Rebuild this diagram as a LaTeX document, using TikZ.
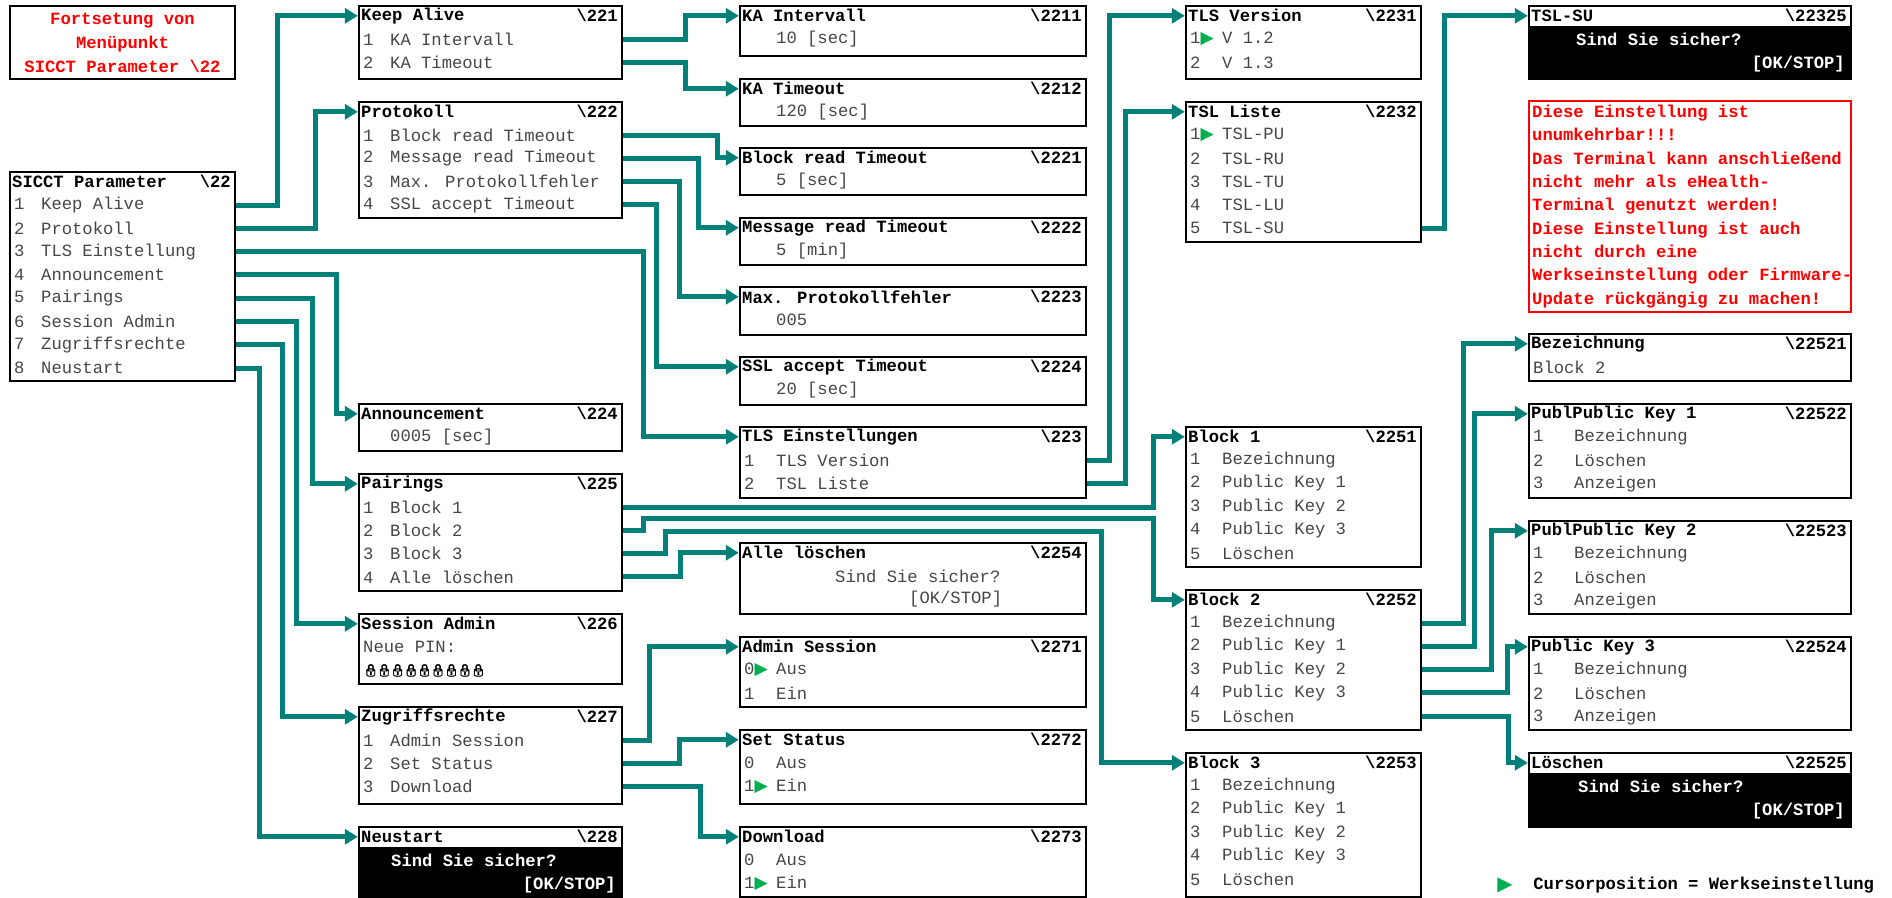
\documentclass[tikz,border=0pt]{standalone}
\usepackage{fontspec}
\setmainfont[Scale=0.86]{Liberation Mono}
\newfontfamily\sym[Scale=0.86]{DejaVu Sans}
\newfontfamily\emo[Scale=0.6,FakeBold=3,LetterSpace=-15]{Noto Emoji}
\usetikzlibrary{arrows.meta,calc,fit}
\definecolor{LinkTeal}{RGB}{0,128,120}
\definecolor{EntryGray}{RGB}{70,70,70}
\definecolor{CursorGreen}{RGB}{0,176,80}
\definecolor{NoteRed}{RGB}{255,0,0}

\newcommand{\nr}[3][13.5pt]{\makebox[#1][l]{#2}#3}
\newcommand{\cur}[3][16pt]{\makebox[#1][l]{#2{\sym\textcolor{CursorGreen}{▶}}}#3}

\tikzset{
  menubox/.style={draw,line width=1.2pt,inner sep=0pt},
  titel/.style={anchor=west,inner sep=0pt,font=\bfseries},
  kennung/.style={anchor=east,inner sep=0pt,font=\bfseries},
  zeile/.style={anchor=west,inner sep=0pt,text=EntryGray},
  link/.style={draw=LinkTeal,line width=2.5pt,-{Triangle[length=6.5pt,width=7.5pt]}},
}

% Menue: Name, Ecken, Titel, Kennung, Zeilen
\newcommand{\menue}[5]{%
  \node[menubox,fit={#2}] (#1) {};
  \node[titel] (#1-t) at ($(#1.north west)+(3,11)$) {#3};
  \node[kennung] (#1-k) at ($(#1.north east)+(-5,11)$) {\textbackslash#4};
  \foreach \z [count=\i] in {#5}
    \node[zeile] (#1-\i) at ($(#1.north west)+(5,{11+23.3*\i})$) {\z};
}
% Sicherheitsabfrage: Name, Ecken, Titel, Kennung, Einzug
\newcommand{\frage}[5]{%
  \node[menubox,fit={#2}] (#1) {};
  \fill ($(#1.north west)+(0,21)$) rectangle (#1.south east);
  \node[titel] (#1-t) at ($(#1.north west)+(3,11)$) {#3};
  \node[kennung] (#1-k) at ($(#1.north east)+(-5,11)$) {\textbackslash#4};
  \node[titel,text=white] (#1-1) at ($(#1.north west)+(#5,35)$) {Sind Sie sicher?};
  \node[kennung,text=white] (#1-2) at ($(#1.north east)+(-7,59)$) {[OK/STOP]};
}

\begin{document}
\begin{tikzpicture}[x=0.5pt,y=-0.5pt]
\useasboundingbox (0,0) rectangle (1892,898);

% linke Spalte
\node[menubox,fit={(10,6)(235,79)}] (fortsetzung) {};
\node[text=NoteRed,font=\bfseries,align=center] (fortsetzung-t) at (fortsetzung.center) {Fortsetung von\\Menüpunkt\\SICCT Parameter \textbackslash22};
\menue{sicct}{(10,172)(235,381)}{SICCT Parameter}{22}{\nr{1}{Keep Alive},\nr{2}{Protokoll},\nr{3}{TLS Einstellung},\nr{4}{Announcement},\nr{5}{Pairings},\nr{6}{Session Admin},\nr{7}{Zugriffsrechte},\nr{8}{Neustart}}

% zweite Spalte
\menue{keepalive}{(359,6)(622,79)}{Keep Alive}{221}{\nr{1}{KA Intervall},\nr{2}{KA Timeout}}
\menue{protokoll}{(359,102)(622,218)}{Protokoll}{222}{\nr{1}{Block read Timeout},\nr{2}{Message read Timeout},\nr{3}{Max. Protokollfehler},\nr{4}{SSL accept Timeout}}
\menue{announcement}{(359,404)(622,451)}{Announcement}{224}{\nr{}{0005 [sec]}}
\menue{pairings}{(359,474)(622,591)}{Pairings}{225}{\nr{1}{Block 1},\nr{2}{Block 2},\nr{3}{Block 3},\nr{4}{Alle löschen}}
\menue{session}{(359,614)(622,684)}{Session Admin}{226}{Neue PIN:,{\color{black}\emo 🔒🔒🔒🔒🔒🔒🔒🔒🔒}}
\menue{zugriff}{(359,707)(622,804)}{Zugriffsrechte}{227}{\nr{1}{Admin Session},\nr{2}{Set Status},\nr{3}{Download}}
\frage{neustart}{(359,827)(622,897)}{Neustart}{228}{33}

% dritte Spalte
\menue{kaint}{(740,6)(1086,56)}{KA Intervall}{2211}{\nr[16pt]{}{10 [sec]}}
\menue{katimeout}{(740,79)(1086,126)}{KA Timeout}{2212}{\nr[16pt]{}{120 [sec]}}
\menue{blockread}{(740,148)(1086,195)}{Block read Timeout}{2221}{\nr[16pt]{}{5 [sec]}}
\menue{msgread}{(740,218)(1086,265)}{Message read Timeout}{2222}{\nr[16pt]{}{5 [min]}}
\menue{maxfehler}{(740,287)(1086,335)}{Max. Protokollfehler}{2223}{\nr[16pt]{}{005}}
\menue{sslaccept}{(740,357)(1086,405)}{SSL accept Timeout}{2224}{\nr[16pt]{}{20 [sec]}}
\menue{tlseinst}{(740,427)(1086,498)}{TLS Einstellungen}{223}{\nr[16pt]{1}{TLS Version},\nr[16pt]{2}{TSL Liste}}
\menue{alle}{(740,543)(1086,614)}{Alle löschen}{2254}{\hspace*{45.5pt}Sind Sie sicher?,\hspace*{82.5pt}[OK/STOP]}
\menue{adminsession}{(740,637)(1086,707)}{Admin Session}{2271}{\cur{0}{Aus},\nr[16pt]{1}{Ein}}
\menue{setstatus}{(740,730)(1086,804)}{Set Status}{2272}{\nr[16pt]{0}{Aus},\cur{1}{Ein}}
\menue{download}{(740,827)(1086,897)}{Download}{2273}{\nr[16pt]{0}{Aus},\cur{1}{Ein}}

% vierte Spalte
\menue{tlsversion}{(1186,6)(1421,79)}{TLS Version}{2231}{\cur{1}{V 1.2},\nr[16pt]{2}{V 1.3}}
\menue{tslliste}{(1186,102)(1421,242)}{TSL Liste}{2232}{\cur{1}{TSL-PU},\nr[16pt]{2}{TSL-RU},\nr[16pt]{3}{TSL-TU},\nr[16pt]{4}{TSL-LU},\nr[16pt]{5}{TSL-SU}}
\menue{block1}{(1186,427)(1421,567)}{Block 1}{2251}{\nr[16pt]{1}{Bezeichnung},\nr[16pt]{2}{Public Key 1},\nr[16pt]{3}{Public Key 2},\nr[16pt]{4}{Public Key 3},\nr[16pt]{5}{Löschen}}
\menue{block2}{(1186,590)(1421,730)}{Block 2}{2252}{\nr[16pt]{1}{Bezeichnung},\nr[16pt]{2}{Public Key 1},\nr[16pt]{3}{Public Key 2},\nr[16pt]{4}{Public Key 3},\nr[16pt]{5}{Löschen}}
\menue{block3}{(1186,753)(1421,897)}{Block 3}{2253}{\nr[16pt]{1}{Bezeichnung},\nr[16pt]{2}{Public Key 1},\nr[16pt]{3}{Public Key 2},\nr[16pt]{4}{Public Key 3},\nr[16pt]{5}{Löschen}}

% fuenfte Spalte
\frage{tslsu}{(1529,6)(1851,79)}{TSL-SU}{22325}{48}
\node[draw=NoteRed,line width=1.2pt,inner sep=0pt,fit={(1529,101)(1851,312)}] (hinweis) {};
\node[anchor=north west,inner sep=0pt,align=left,text=NoteRed,font=\fontsize{10}{11.65}\selectfont\bfseries] (hinweis-t) at ($(hinweis.north west)+(4,5)$) {Diese Einstellung ist\\unumkehrbar!!!\\Das Terminal kann anschließend\\nicht mehr als eHealth-\\Terminal genutzt werden!\\Diese Einstellung ist auch\\nicht durch eine\\Werkseinstellung oder Firmware-\\Update rückgängig zu machen!};
\menue{bezeichnung}{(1529,334)(1851,381)}{Bezeichnung}{22521}{Block 2}
\menue{pk1}{(1529,404)(1851,498)}{PublPublic Key 1}{22522}{\nr[20.5pt]{1}{Bezeichnung},\nr[20.5pt]{2}{Löschen},\nr[20.5pt]{3}{Anzeigen}}
\menue{pk2}{(1529,521)(1851,614)}{PublPublic Key 2}{22523}{\nr[20.5pt]{1}{Bezeichnung},\nr[20.5pt]{2}{Löschen},\nr[20.5pt]{3}{Anzeigen}}
\menue{pk3}{(1529,637)(1851,730)}{Public Key 3}{22524}{\nr[20.5pt]{1}{Bezeichnung},\nr[20.5pt]{2}{Löschen},\nr[20.5pt]{3}{Anzeigen}}
\frage{loeschen}{(1529,753)(1851,827)}{Löschen}{22525}{50}
\node[anchor=west,inner sep=0pt] (legende-s) at (1497,885) {\sym\fontsize{11.5}{12}\selectfont\textcolor{CursorGreen}{▶}};
\node[anchor=west,inner sep=0pt,font=\bfseries] (legende) at (1533,885) {Cursorposition = Werkseinstellung};

% Verbindungen
\draw[link] (sicct-1 -| sicct.east) -- ++(41,0) |- (keepalive-t -| keepalive.west);
\draw[link] (sicct-2 -| sicct.east) -- ++(79,0) |- (protokoll-t -| protokoll.west);
\draw[link] (sicct-3 -| sicct.east) -- ++(407,0) |- (tlseinst-t -| tlseinst.west);
\draw[link] (sicct-4 -| sicct.east) -- ++(100,0) |- (announcement-t -| announcement.west);
\draw[link] (sicct-5 -| sicct.east) -- ++(76,0) |- (pairings-t -| pairings.west);
\draw[link] (sicct-6 -| sicct.east) -- ++(60,0) |- (session-t -| session.west);
\draw[link] (sicct-7 -| sicct.east) -- ++(46,0) |- (zugriff-t -| zugriff.west);
\draw[link] (sicct-8 -| sicct.east) -- ++(23,0) |- (neustart-t -| neustart.west);

\draw[link] (keepalive-1 -| keepalive.east) -- ++(62,0) |- (kaint-t -| kaint.west);
\draw[link] (keepalive-2 -| keepalive.east) -- ++(62,0) |- (katimeout-t -| katimeout.west);
\draw[link] (protokoll-1 -| protokoll.east) -- ++(94,0) |- (blockread-t -| blockread.west);
\draw[link] (protokoll-2 -| protokoll.east) -- ++(75,0) |- (msgread-t -| msgread.west);
\draw[link] (protokoll-3 -| protokoll.east) -- ++(56,0) |- (maxfehler-t -| maxfehler.west);
\draw[link] (protokoll-4 -| protokoll.east) -- ++(33,0) |- (sslaccept-t -| sslaccept.west);

\draw[link] (pairings-1 -| pairings.east) -- ++(530,0) |- (block1-t -| block1.west);
\draw[link] (pairings-2 -| pairings.east) -- ++(20,0) -- ++(0,-12) -- ++(510,0) |- (block2-t -| block2.west);
\draw[link] (pairings-3 -| pairings.east) -- ++(42,0) -- ++(0,-22) -- ++(436,0) |- (block3-t -| block3.west);
\draw[link] (pairings-4 -| pairings.east) -- ++(57,0) |- (alle-t -| alle.west);

\draw[link] (zugriff-1 -| zugriff.east) -- ++(26,0) |- (adminsession-t -| adminsession.west);
\draw[link] (zugriff-2 -| zugriff.east) -- ++(56,0) |- (setstatus-t -| setstatus.west);
\draw[link] (zugriff-3 -| zugriff.east) -- ++(77,0) |- (download-t -| download.west);

\draw[link] (tlseinst-1 -| tlseinst.east) -- ++(22,0) |- (tlsversion-t -| tlsversion.west);
\draw[link] (tlseinst-2 -| tlseinst.east) -- ++(38,0) |- (tslliste-t -| tslliste.west);
\draw[link] (tslliste-5 -| tslliste.east) -- ++(22,0) |- (tslsu-t -| tslsu.west);

\draw[link] (block2-1 -| block2.east) -- ++(41,0) |- (bezeichnung-t -| bezeichnung.west);
\draw[link] (block2-2 -| block2.east) -- ++(52,0) |- (pk1-t -| pk1.west);
\draw[link] (block2-3 -| block2.east) -- ++(69,0) |- (pk2-t -| pk2.west);
\draw[link] (block2-4 -| block2.east) -- ++(85,0) |- (pk3-t -| pk3.west);
\draw[link] (block2-5 -| block2.east) -- ++(86,0) |- (loeschen-t -| loeschen.west);
\end{tikzpicture}
\end{document}
